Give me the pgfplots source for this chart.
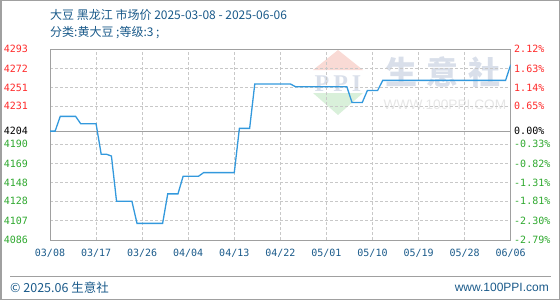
\documentclass[border=0pt]{standalone}
\usepackage{pgfplots}
\pgfplotsset{compat=1.18}
\usepackage{pgfplotstable}
\usepackage{fontspec}
\setmainfont{Liberation Sans}
\newfontfamily\cjk{Noto Sans CJK SC}
\newfontfamily\mono{DejaVu Sans Mono}
\newfontfamily\serifw{Liberation Serif}

\definecolor{titleblue}{HTML}{1A5A8A}
\definecolor{linec}{HTML}{3399DD}
\definecolor{upred}{HTML}{FF2A2A}
\definecolor{downgreen}{HTML}{2EA82E}
\definecolor{framegray}{HTML}{A0A0A0}
\definecolor{gridgray}{HTML}{C8C8C8}
\definecolor{wmblue}{HTML}{D9DFEA}
\definecolor{wmgray}{HTML}{E6E6E6}
\definecolor{wmred}{HTML}{F9DAD5}
\definecolor{wmgreen}{HTML}{D9F0DA}

% day 0 = 2025-03-08, price in yuan/ton
\pgfplotstableread{
day price
0 4204
1 4204
2 4220
5 4220
6 4212
9 4212
10 4179
11 4179
12 4177
13 4128
16 4128
17 4104
22 4104
23 4136
25 4136
26 4155
29 4155
30 4159
36 4159
37 4207
39 4207
40 4255
47 4255
48 4252
58 4252
59 4235
61 4235
62 4248
64 4248
65 4259
89 4259
90 4276
}\pricedata

\pgfplotsset{
  priceframe/.style={
    at={(50bp,60bp)}, anchor=south west, scale only axis,
    width=460.7bp, height=191bp,
    xmin=0, xmax=90, ymin=4086, ymax=4293,
    major tick length=0pt,
    ytick={4086,4107,4128,4148,4169,4190,4204,4231,4251,4272,4293},
  },
}

\begin{document}
\begin{tikzpicture}[x=1bp,y=1bp]
\useasboundingbox (0,0) rectangle (560,300);
\draw[framegray, line width=1.5bp] (0.75,0.75) rectangle (559.25,299.25);

% watermark
\fill[wmred] (313,230) -- (338,250) -- (363,230) -- cycle;
\fill[wmgreen] (313,207) -- (363,207) -- (338,185) -- cycle;
\node[wmblue, inner sep=0, font=\serifw\bfseries\fontsize{24bp}{24bp}\selectfont] at (338,216.5) {P\hspace{4bp}P\hspace{4bp}I};
\node[wmblue, inner sep=0, font=\cjk\bfseries\fontsize{32bp}{32bp}\selectfont] at (443,228) {生\hspace{10bp}意\hspace{10bp}社};
\node[wmgray, inner sep=0, font=\fontsize{13.7bp}{14bp}\selectfont] at (445,195) {WWW.100PPI.COM};

% titles
\node[anchor=west, inner sep=0, titleblue, font=\cjk\fontsize{12bp}{14bp}\selectfont] at (50,285) {大豆 黑龙江 市场价 2025-03-08 - 2025-06-06};
\node[anchor=west, inner sep=0, titleblue, font=\cjk\fontsize{12bp}{14bp}\selectfont] at (50,267) {分类:黄大豆 ;等级:3 ;};

% footer
\draw[framegray, line width=1bp] (10,23.5) -- (551,23.5);
\node[anchor=west, inner sep=0, titleblue, font=\cjk\fontsize{12.5bp}{14bp}\selectfont] at (10,12.5) {© 2025.06 生意社};
\node[anchor=east, inner sep=0, titleblue, font=\fontsize{12bp}{14bp}\selectfont] at (549,12.5) {www.100PPI.com};

\begin{axis}[
  priceframe,
  xtick={0,9,...,90},
  xticklabels={03/08,03/17,03/26,04/04,04/13,04/22,05/01,05/10,05/19,05/28,06/06},
  yticklabels={\textcolor{downgreen}{4086},\textcolor{downgreen}{4107},\textcolor{downgreen}{4128},\textcolor{downgreen}{4148},\textcolor{downgreen}{4169},\textcolor{downgreen}{4190},\textcolor{black}{4204},\textcolor{upred}{4231},\textcolor{upred}{4251},\textcolor{upred}{4272},\textcolor{upred}{4293}},
  grid=major,
  major grid style={gridgray, dash pattern=on 3bp off 2bp, line width=0.8bp},
  axis line style={framegray, line width=1bp},
  tick label style={font=\mono\fontsize{10bp}{12bp}\selectfont},
  xticklabel style={titleblue, yshift=-6bp},
  yticklabel style={xshift=-18.5bp},
]
\draw[framegray, line width=1bp] (axis cs:0,4204) -- (axis cs:90,4204);
\addplot[linec, line width=1.3bp, no markers, sharp plot] table[x=day, y=price] {\pricedata};
\end{axis}

\begin{axis}[
  priceframe,
  hide x axis,
  axis y line*=right,
  axis line style={draw=none},
  yticklabels={\textcolor{downgreen}{-2.79\%},\textcolor{downgreen}{-2.30\%},\textcolor{downgreen}{-1.81\%},\textcolor{downgreen}{-1.31\%},\textcolor{downgreen}{-0.82\%},\textcolor{downgreen}{-0.33\%},\textcolor{black}{0.00\%},\textcolor{upred}{0.65\%},\textcolor{upred}{1.14\%},\textcolor{upred}{1.63\%},\textcolor{upred}{2.12\%}},
  yticklabel style={font=\mono\fontsize{10bp}{12bp}\selectfont, anchor=west},
]
\end{axis}
\end{tikzpicture}
\end{document}
